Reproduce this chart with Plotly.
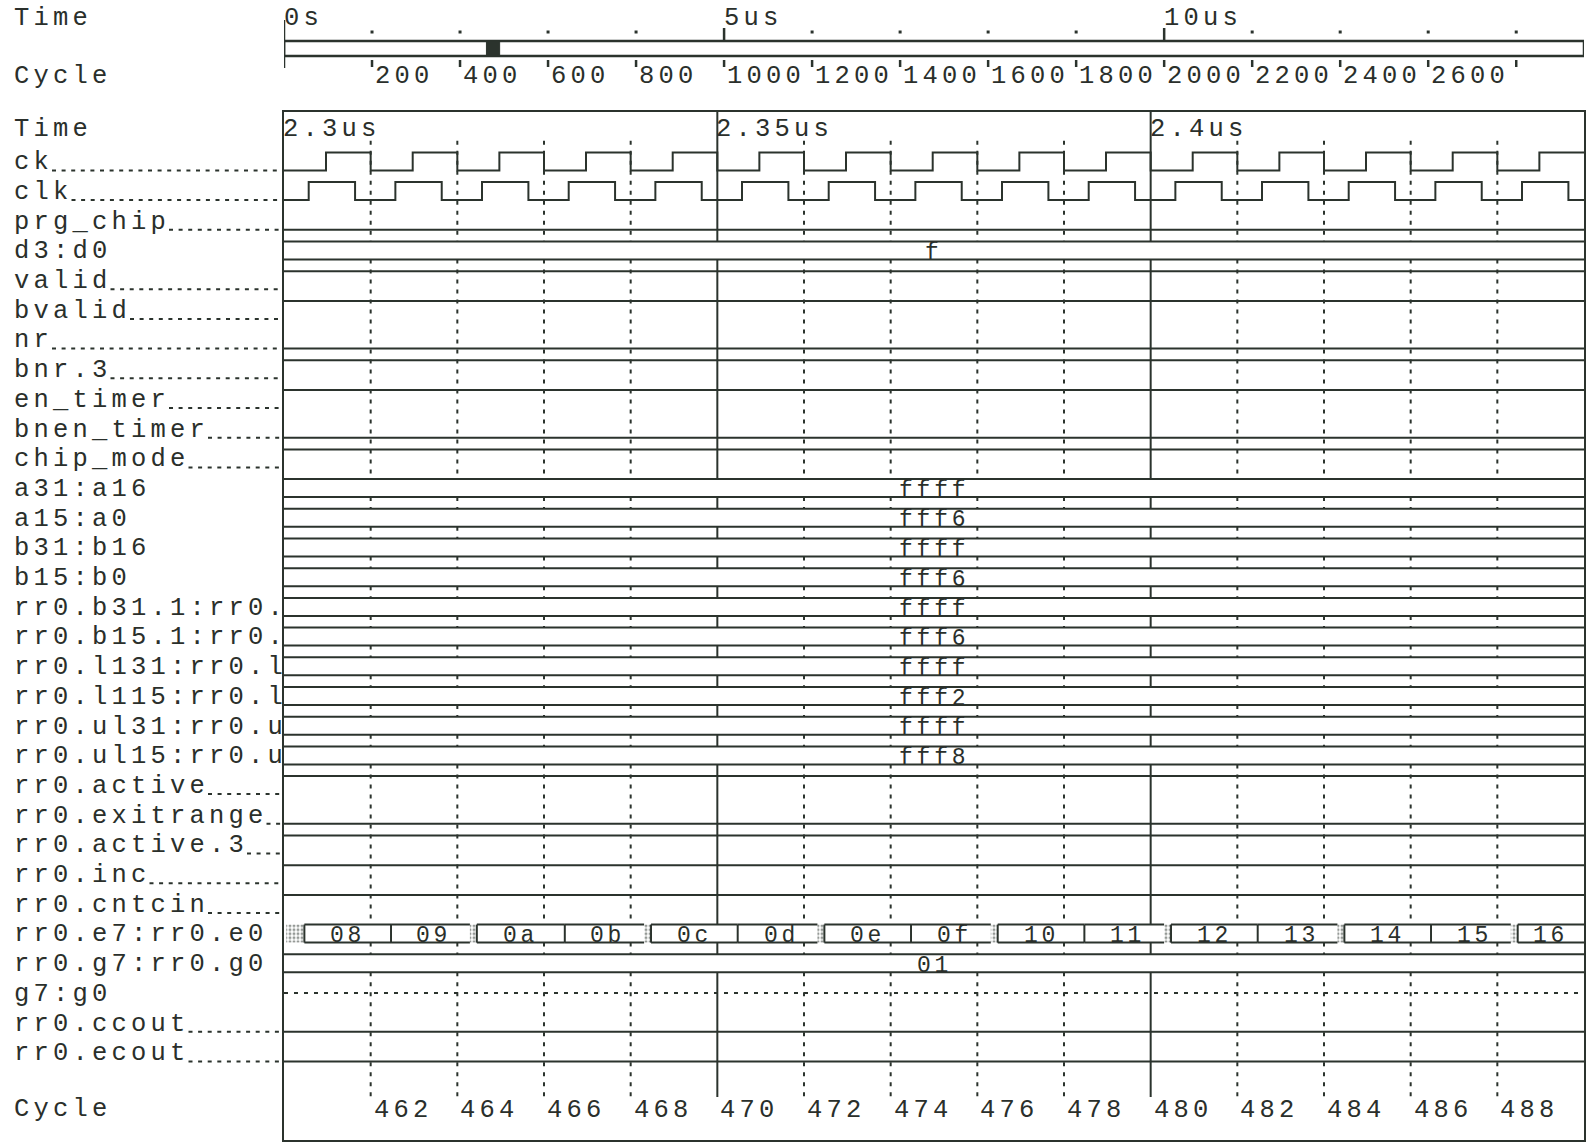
import plotly.graph_objects as go

# ================= data =================
view_cycles = [460, 490]                 # cycles shown in the waveform window
window_time_us = [2.30, 2.45]            # that window marked on the overview bar
overview_time_us = [0.0, 14.77]          # extent of the overview bar
overview_major_us = [0, 5, 10]
overview_major_labels = ["0s", "5us", "10us"]
overview_minor_us = [1, 2, 3, 4, 6, 7, 8, 9, 11, 12, 13, 14]
overview_cycle_ticks = [200, 400, 600, 800, 1000, 1200, 1400, 1600, 1800,
                        2000, 2200, 2400, 2600, 2800]
overview_cycle_labels = ["200", "400", "600", "800", "1000", "1200", "1400", "1600",
                         "1800", "2000", "2200", "2400", "2600", ""]
cycles_per_us = 200

time_marker_cycles = [460, 470, 480]
time_marker_labels = ["2.3us", "2.35us", "2.4us"]
cycle_tick_values = [462, 464, 466, 468, 470, 472, 474, 476, 478, 480, 482, 484, 486, 488]
cycle_tick_labels = ["462", "464", "466", "468", "470", "472", "474", "476", "478",
                     "480", "482", "484", "486", "488"]

signal_names = [
    "ck", "clk", "prg_chip", "d3:d0", "valid", "bvalid", "nr", "bnr.3",
    "en_timer", "bnen_timer", "chip_mode", "a31:a16", "a15:a0", "b31:b16",
    "b15:b0", "rr0.b31.1:rr0.", "rr0.b15.1:rr0.", "rr0.l131:rr0.l",
    "rr0.l115:rr0.l", "rr0.ul31:rr0.u", "rr0.ul15:rr0.u", "rr0.active",
    "rr0.exitrange", "rr0.active.3", "rr0.inc", "rr0.cntcin",
    "rr0.e7:rr0.e0", "rr0.g7:rr0.g0", "g7:g0", "rr0.ccout", "rr0.ecout",
]
signal_kinds = [
    "clock", "clock", "bit", "bus", "bit", "bit", "bit", "bit",
    "bit", "bit", "bit", "bus", "bus", "bus",
    "bus", "bus", "bus", "bus",
    "bus", "bus", "bus", "bit",
    "bit", "bit", "bit", "bit",
    "seq", "bus", "float", "bit", "bit",
]
bit_levels = {
    "prg_chip": 0, "valid": 1, "bvalid": 1, "nr": 0, "bnr.3": 1,
    "en_timer": 1, "bnen_timer": 0, "chip_mode": 1, "rr0.active": 1,
    "rr0.exitrange": 0, "rr0.active.3": 1, "rr0.inc": 1, "rr0.cntcin": 1,
    "rr0.ccout": 0, "rr0.ecout": 0,
}
bus_values = {
    "d3:d0": "f", "a31:a16": "ffff", "a15:a0": "fff6", "b31:b16": "ffff",
    "b15:b0": "fff6", "rr0.b31.1:rr0.": "ffff", "rr0.b15.1:rr0.": "fff6",
    "rr0.l131:rr0.l": "ffff", "rr0.l115:rr0.l": "fff2", "rr0.ul31:rr0.u": "ffff",
    "rr0.ul15:rr0.u": "fff8", "rr0.g7:rr0.g0": "01",
}
ck_start_level = 0
ck_edges = [460.97, 462.0, 462.97, 464.0, 464.97, 466.0, 466.97, 468.0, 468.97, 470.0,
            470.97, 472.0, 472.97, 474.0, 474.97, 476.0, 476.97, 478.0, 478.97, 480.0,
            480.97, 482.0, 482.97, 484.0, 484.97, 486.0, 486.97, 488.0, 488.97]
clk_start_level = 0
clk_edges = [460.57, 461.64, 462.57, 463.64, 464.57, 465.64, 466.57, 467.64, 468.57,
             469.64, 470.57, 471.64, 472.57, 473.64, 474.57, 475.64, 476.57, 477.64,
             478.57, 479.64, 480.57, 481.64, 482.57, 483.64, 484.57, 485.64, 486.57,
             487.64, 488.57, 489.64]
e7_starts = [460.0, 460.47, 462.47, 464.45, 466.48, 468.47, 470.47, 472.47, 474.47,
             476.47, 478.47, 480.47, 482.47, 484.47, 486.47, 488.47]
e7_values = ["07", "08", "09", "0a", "0b", "0c", "0d", "0e", "0f", "10", "11", "12",
             "13", "14", "15", "16"]

# ================= styling / geometry =================
INK = "#2b332d"
TXT = "#2a2f2b"
FONT = "Liberation Mono"
W, H = 1588, 1143
PANEL_L, PANEL_R, PANEL_T, PANEL_B = 284, 1584, 111.7, 1140
ROW1_BASE, ROW_PITCH = 170.4, 29.7
HI = 18.0 / ROW_PITCH
LABEL_FS, LABEL_CHAR = 25.5, 19.5       # font size, wanted character pitch (px)
BUS_FS, BUS_CHAR = 23, 17.6
GLITCH = 0.16
OV_TOP_PX, OV_BOT_PX = 41.0, 56.0


def row_of(py):
    return 1 + (py - ROW1_BASE) / ROW_PITCH


def ov_of(py):
    return (OV_BOT_PX - py) / (OV_BOT_PX - OV_TOP_PX)


def txt_center_rows(fs):
    return 0.30 * fs / ROW_PITCH


v0, v1 = view_cycles
x_dom = [PANEL_L / W, PANEL_R / W]
y_dom = [1 - PANEL_B / H, 1 - PANEL_T / H]
y_rng = [row_of(PANEL_B), row_of(PANEL_T)]
ov_dom = [1 - 111.0 / H, 1.0]
ov_rng = [ov_of(111.0), ov_of(0.0)]

sx, sy = [], []      # solid waveform lines
dx, dy = [], []      # dotted lines
hx, hy = [], []      # hatched areas
ann = []


def seg(xs, ys, X=sx, Y=sy):
    X.extend(list(xs) + [None])
    Y.extend(list(ys) + [None])


def box(xa, xb, ya, yb):
    hx.extend([xa, xb, xb, xa, xa, None])
    hy.extend([ya, ya, yb, yb, ya, None])


def text(t, x, y, xref, yref, fs=LABEL_FS, pitch=LABEL_CHAR, xanchor="left", xshift=0):
    sp = pitch - 0.6 * fs
    ann.append(dict(text='<span style="letter-spacing:%.2fpx">%s</span>' % (sp, t),
                    x=x, y=y, xref=xref, yref=yref, xanchor=xanchor,
                    yanchor="middle", showarrow=False, xshift=xshift,
                    font=dict(family=FONT, size=fs, color=TXT)))


def step_wave(edges, k, lvl):
    xs, ys = [v0], [k - HI * lvl]
    for e in edges:
        xs += [e, e]
        ys += [k - HI * lvl, k - HI * (1 - lvl)]
        lvl = 1 - lvl
    xs.append(v1)
    ys.append(k - HI * lvl)
    seg(xs, ys)


shapes = []
bus_bands = []
for i, (name, kind) in enumerate(zip(signal_names, signal_kinds)):
    k = i + 1
    text(name, 12 / W, k - txt_center_rows(LABEL_FS), "paper", "y")
    if kind in ("bit", "clock"):
        xl = 12 + len(name) * LABEL_CHAR + 1
        if xl < PANEL_L - 4:
            shapes.append(dict(type="line", xref="paper", yref="y", x0=xl / W, x1=(PANEL_L - 1) / W,
                               y0=k, y1=k, line=dict(color=INK, width=2, dash="4px,5.6px")))
    if kind == "clock":
        if name == "ck":
            step_wave(ck_edges, k, ck_start_level)
        else:
            step_wave(clk_edges, k, clk_start_level)
    elif kind == "bit":
        lv = bit_levels[name]
        seg([v0, v1], [k - HI * lv] * 2)
    elif kind == "bus":
        bus_bands.append((k - HI, k))
        seg([v0, v1], [k - HI, k - HI])
        seg([v0, v1], [k, k])
        text(bus_values[name], (v0 + v1) / 2, k - txt_center_rows(BUS_FS) + 0.02, "x", "y",
             BUS_FS, BUS_CHAR, xanchor="center")
    elif kind == "float":
        seg([v0, v1], [k - HI / 2] * 2, dx, dy)
    elif kind == "seq":
        bus_bands.append((k - HI, k))
        n = len(e7_starts)
        ends = e7_starts[1:] + [v1]
        narrow = [(min(e, v1) - max(s, v0)) < 1.0 for s, e in zip(e7_starts, ends)]
        multi = [False] + [bin(int(e7_values[j - 1], 16) ^ int(e7_values[j], 16)).count("1") > 1
                           for j in range(1, n)]
        for j in range(n):
            s, e = max(e7_starts[j], v0), min(ends[j], v1)
            if j > 0:
                t = e7_starts[j]
                if multi[j] and not narrow[j - 1]:
                    box(t - GLITCH, t, k - HI, k)
                seg([t, t], [k - HI, k])
            if narrow[j]:
                box(s + 0.05, e - 0.02, k - HI, k)
                continue
            b = e
            if j + 1 < n and multi[j + 1]:
                b = e - GLITCH
            seg([s, b], [k - HI, k - HI])
            seg([s, b], [k, k])
            text(e7_values[j], (s + e) / 2, k - txt_center_rows(BUS_FS) + 0.02, "x", "y",
                 BUS_FS, BUS_CHAR, xanchor="center")

bus_bands.sort()


def vertical(x, y0, y1, X, Y):
    cur = y0
    for a, b in bus_bands:
        if b <= cur or a >= y1:
            continue
        if a > cur:
            seg([x, x], [cur, a], X, Y)
        cur = max(cur, b)
    if cur < y1:
        seg([x, x], [cur, y1], X, Y)


dot_top, dot_bot = row_of(140.7), row_of(1102.0)
solid_bot = row_of(1097.0)
for c in cycle_tick_values:
    if c in time_marker_cycles:
        vertical(c, y_rng[1], solid_bot, sx, sy)
    else:
        vertical(c, dot_top, dot_bot, dx, dy)

# header / footer texts of the waveform window
text("Time", 12 / W, row_of(129), "paper", "y")
text("Cycle", 12 / W, row_of(1109), "paper", "y")
for c, lab in zip(time_marker_cycles, time_marker_labels):
    text(lab, c, row_of(129), "x", "y", xshift=-3)
for c, lab in zip(cycle_tick_values, cycle_tick_labels):
    text(lab, c, row_of(1110), "x", "y", xshift=1)

# ================= overview bar =================
ox, oy = [], []
t0, t1 = overview_time_us
seg([t0, t1, t1, t0, t0], [0, 0, 1, 1, 0], ox, oy)
seg([t0, t0], [ov_of(20), ov_of(68)], ox, oy)
for t in overview_major_us[1:]:
    seg([t, t], [ov_of(28), ov_of(41)], ox, oy)
for c in overview_cycle_ticks:
    seg([c / cycles_per_us] * 2, [ov_of(60), ov_of(67)], ox, oy)
text("Time", 12 / W, ov_of(18), "paper", "y2")
text("Cycle", 12 / W, ov_of(76), "paper", "y2")
for t, lab in zip(overview_major_us, overview_major_labels):
    text(lab, t, ov_of(18), "x2", "y2", xshift=-2)
for c, lab in zip(overview_cycle_ticks, overview_cycle_labels):
    if lab:
        text(lab, c / cycles_per_us, ov_of(76), "x2", "y2", xshift=1)

fig = go.Figure()
fig.add_trace(go.Scatter(x=hx, y=hy, mode="lines", fill="toself", line=dict(width=0),
                         fillcolor="rgba(0,0,0,0)",
                         fillpattern=dict(shape=".", fgcolor=INK, bgcolor="white", size=4, solidity=0.45),
                         hoverinfo="skip", showlegend=False))
fig.add_trace(go.Scatter(x=dx, y=dy, mode="lines", line=dict(color=INK, width=2, dash="4px,6px"),
                         connectgaps=False, hoverinfo="skip", showlegend=False))
fig.add_trace(go.Scatter(x=sx, y=sy, mode="lines", line=dict(color=INK, width=2),
                         connectgaps=False, hoverinfo="skip", showlegend=False))
fig.add_trace(go.Scatter(x=ox, y=oy, mode="lines", line=dict(color=INK, width=2.5), xaxis="x2", yaxis="y2",
                         connectgaps=False, hoverinfo="skip", showlegend=False))
fig.add_trace(go.Scatter(x=[window_time_us[0], window_time_us[1], window_time_us[1], window_time_us[0],
                            window_time_us[0]], y=[0, 0, 1, 1, 0], mode="lines", fill="toself",
                         fillcolor=INK, line=dict(color=INK, width=1), xaxis="x2", yaxis="y2",
                         hoverinfo="skip", showlegend=False))
fig.add_trace(go.Scatter(x=overview_minor_us, y=[ov_of(32)] * len(overview_minor_us), mode="markers",
                         marker=dict(symbol="square", size=3, color=INK), xaxis="x2", yaxis="y2",
                         hoverinfo="skip", showlegend=False))

ax_common = dict(showgrid=False, zeroline=False, showticklabels=False, ticks="", fixedrange=True)
fig.update_layout(
    width=W, height=H, margin=dict(l=0, r=0, t=0, b=0),
    paper_bgcolor="white", plot_bgcolor="rgba(0,0,0,0)",
    xaxis=dict(domain=x_dom, range=view_cycles, anchor="y", showline=True, mirror=True,
               linecolor=INK, linewidth=2, **ax_common),
    yaxis=dict(domain=y_dom, range=y_rng, anchor="x", showline=True, mirror=True,
               linecolor=INK, linewidth=2, **ax_common),
    xaxis2=dict(domain=x_dom, range=overview_time_us, anchor="y2", showline=False, **ax_common),
    yaxis2=dict(domain=ov_dom, range=ov_rng, anchor="x2", showline=False, **ax_common),
    annotations=ann, shapes=shapes, showlegend=False,
)

fig.write_html("out.html", config={"displayModeBar": False},
               post_script="document.body.style.margin='0';document.body.style.overflow='hidden';")
